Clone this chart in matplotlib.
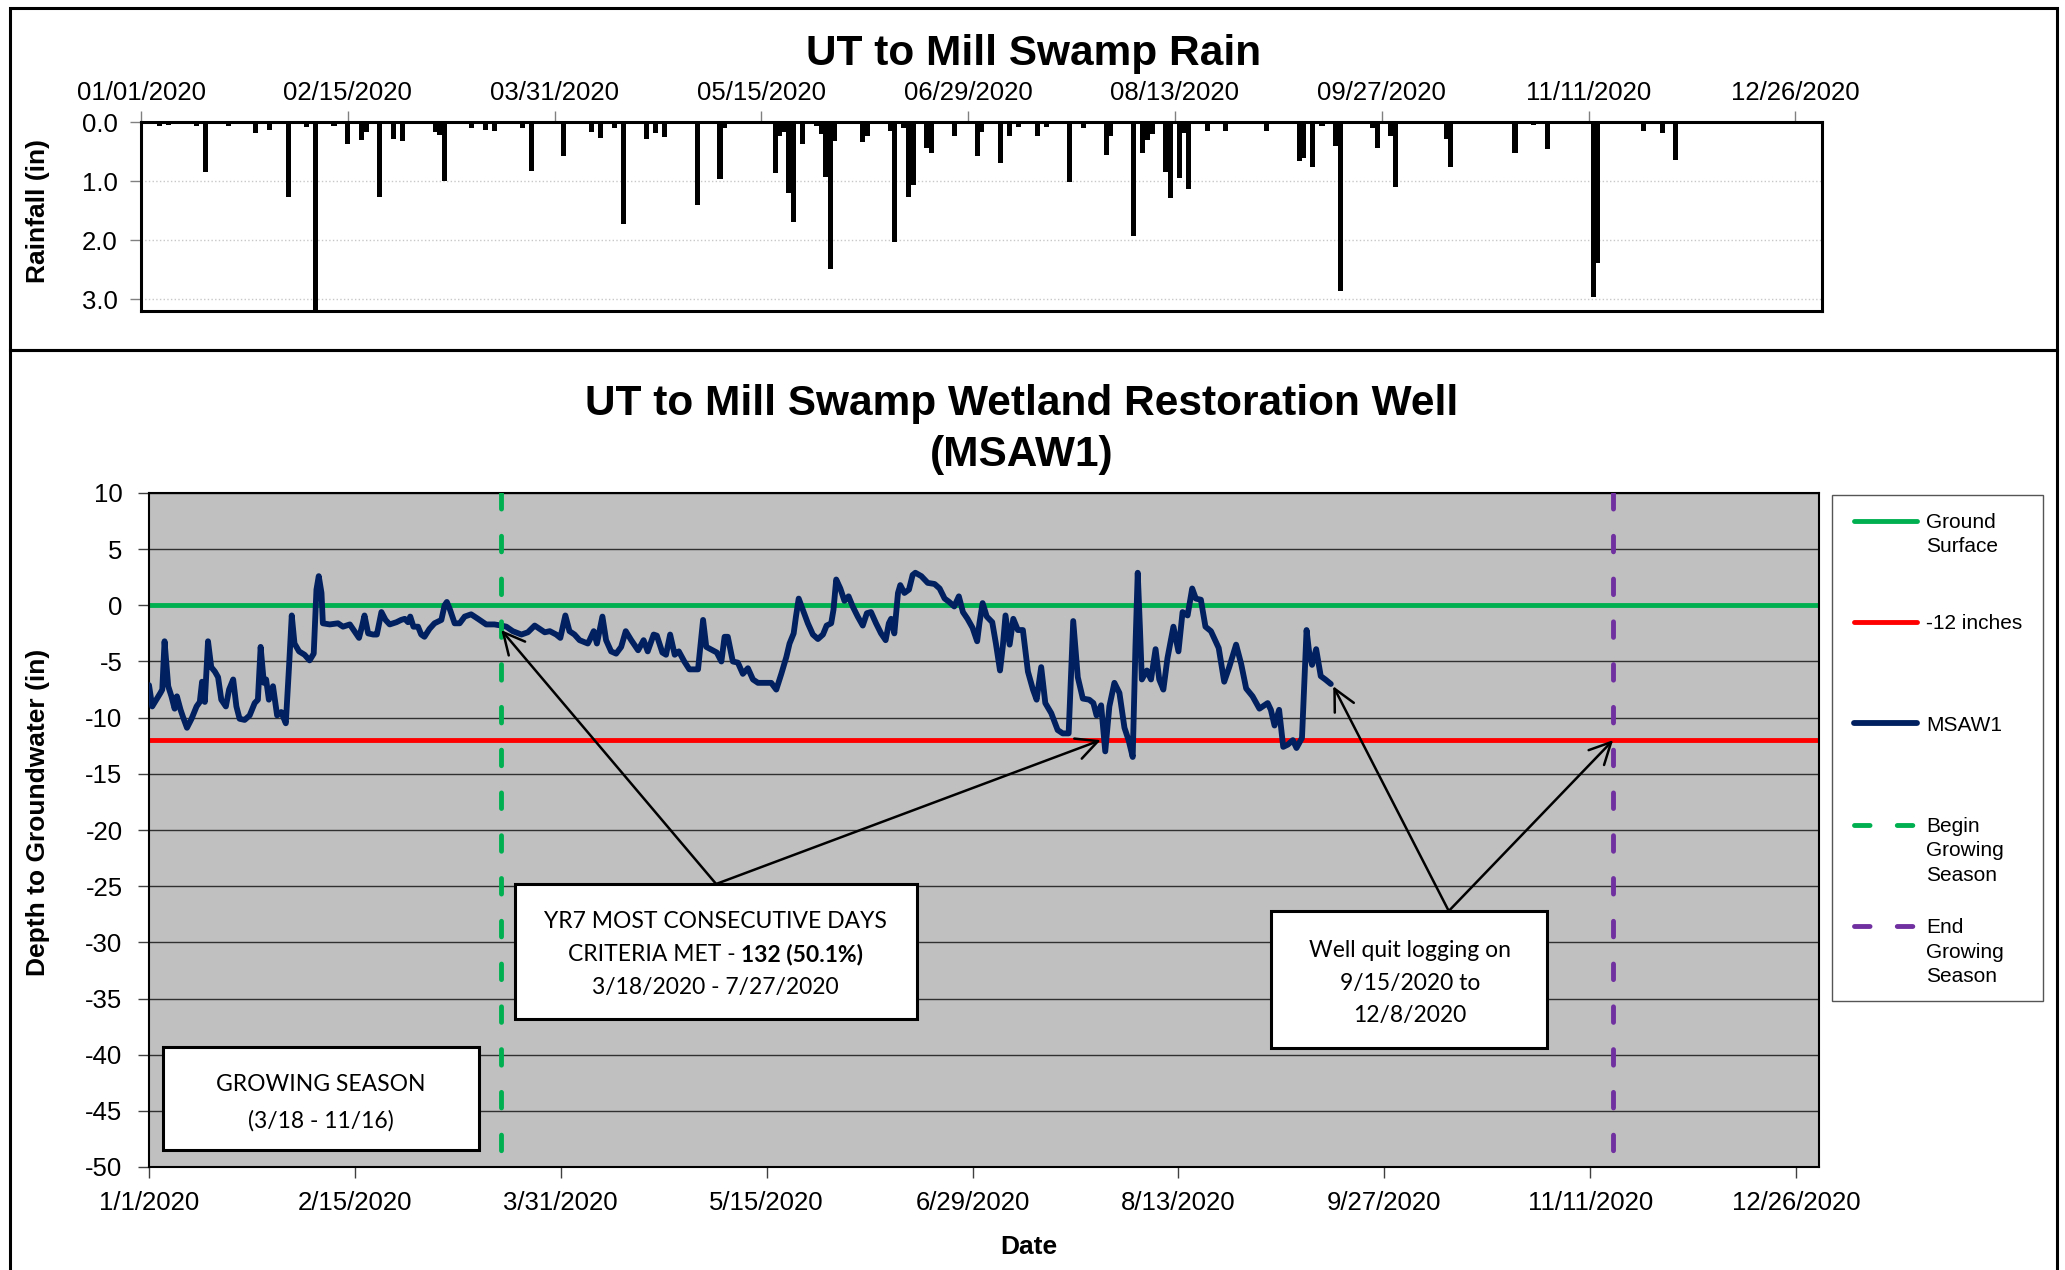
#!/usr/bin/env python3
"""UT to Mill Swamp: 2020 daily rainfall over the MSAW1 groundwater well record."""
import matplotlib
matplotlib.use("Agg")
import matplotlib.pyplot as plt
import matplotlib.dates as mdates
import matplotlib.ticker as mticker
import pandas as pd
from matplotlib.patches import Rectangle
from matplotlib.transforms import offset_copy

ARIAL = "Liberation Sans"
CALIBRI = "Lato"
GREEN = "#00B050"
RED = "#FF0000"
NAVY = "#002060"
PURPLE = "#7030A0"
PLOT_BG = "#C0C0C0"
plt.rcParams.update({"font.family": ARIAL, "axes.linewidth": 1.5, "axes.unicode_minus": False})

# ---- data ------------------------------------------------------------------
rain_dates = [
    "2020-01-05", "2020-01-07", "2020-01-10", "2020-01-13", "2020-01-15", "2020-01-20",
    "2020-01-26", "2020-01-29", "2020-02-02", "2020-02-06", "2020-02-08", "2020-02-10",
    "2020-02-12", "2020-02-15", "2020-02-18", "2020-02-19", "2020-02-22", "2020-02-25",
    "2020-02-27", "2020-03-05", "2020-03-06", "2020-03-07", "2020-03-13", "2020-03-16",
    "2020-03-18", "2020-03-24", "2020-03-26", "2020-04-02", "2020-04-08", "2020-04-10",
    "2020-04-13", "2020-04-15", "2020-04-20", "2020-04-22", "2020-04-24", "2020-05-01",
    "2020-05-06", "2020-05-07", "2020-05-09", "2020-05-18", "2020-05-19", "2020-05-20",
    "2020-05-21", "2020-05-22", "2020-05-24", "2020-05-27", "2020-05-28", "2020-05-29",
    "2020-05-30", "2020-05-31", "2020-06-06", "2020-06-07", "2020-06-12", "2020-06-13",
    "2020-06-15", "2020-06-16", "2020-06-17", "2020-06-20", "2020-06-21", "2020-06-26",
    "2020-07-01", "2020-07-02", "2020-07-06", "2020-07-08", "2020-07-10", "2020-07-14",
    "2020-07-16", "2020-07-21", "2020-07-24", "2020-07-25", "2020-07-29", "2020-07-30",
    "2020-08-04", "2020-08-06", "2020-08-07", "2020-08-08", "2020-08-11", "2020-08-12",
    "2020-08-14", "2020-08-15", "2020-08-16", "2020-08-20", "2020-08-24", "2020-09-02",
    "2020-09-06", "2020-09-09", "2020-09-10", "2020-09-12", "2020-09-14", "2020-09-17",
    "2020-09-18", "2020-09-25", "2020-09-26", "2020-09-29", "2020-09-30", "2020-10-05",
    "2020-10-11", "2020-10-12", "2020-10-17", "2020-10-26", "2020-10-30", "2020-11-02",
    "2020-11-12", "2020-11-13", "2020-11-23", "2020-11-27", "2020-11-30",
]
rain_in = [
    0.06, 0.05, 0.03, 0.07, 0.85, 0.07,
    0.19, 0.14, 1.27, 0.09, 3.20, 0.02,
    0.06, 0.37, 0.30, 0.17, 1.27, 0.28,
    0.32, 0.17, 0.22, 1.00, 0.10, 0.13,
    0.15, 0.10, 0.83, 0.58, 0.17, 0.27,
    0.11, 1.72, 0.28, 0.19, 0.26, 1.41,
    0.97, 0.11, 0.03, 0.87, 0.23, 0.17,
    1.21, 1.69, 0.38, 0.07, 0.20, 0.93,
    2.49, 0.33, 0.34, 0.24, 0.15, 2.03,
    0.11, 1.27, 1.06, 0.44, 0.53, 0.23,
    0.58, 0.17, 0.70, 0.24, 0.09, 0.24,
    0.09, 1.02, 0.11, 0.03, 0.56, 0.23,
    1.93, 0.53, 0.30, 0.20, 0.85, 1.28,
    0.95, 0.19, 1.13, 0.16, 0.16, 0.15,
    0.02, 0.66, 0.61, 0.76, 0.06, 0.41,
    2.86, 0.10, 0.44, 0.24, 1.10, 0.02,
    0.28, 0.76, 0.02, 0.53, 0.05, 0.45,
    2.97, 2.39, 0.15, 0.19, 0.64,
]

# MSAW1 logger readings: days after 1 Jan 2020, depth to groundwater (in)
well_day = [
    0.0, 0.7, 1.6, 2.5, 2.9, 3.4, 4.2, 4.9, 5.6, 6.1, 6.9, 7.4, 8.3, 9.3, 10.4,
    11.1, 11.6, 12.2, 12.9, 13.6, 14.4, 15.1, 15.8, 16.8, 17.5, 18.4, 19.1, 19.8,
    20.9, 22.0, 23.1, 23.8, 24.4, 25.1, 25.6, 26.2, 27.1, 28.0, 28.9, 29.9, 30.6,
    31.2, 31.8, 32.8, 34.0, 35.1, 36.0, 36.6, 37.1, 37.7, 38.0, 39.5, 41.3, 42.4,
    43.9, 44.9, 45.9, 46.6, 47.1, 47.9, 49.0, 49.8, 50.8, 51.7, 52.6, 54.1, 55.1,
    55.9, 56.6, 57.1, 57.8, 58.8, 59.5, 60.2, 61.3, 62.4, 63.9, 64.6, 65.1, 65.8,
    66.8, 67.9, 69.0, 70.4, 71.9, 73.7, 75.5, 77.0, 78.1, 79.5, 81.4, 82.8, 84.3,
    85.4, 86.5, 87.6, 89.0, 89.9, 91.0, 91.9, 93.0, 94.1, 95.9,
    96.3, 97.2, 97.9, 99.1, 99.9, 101.0, 102.1, 103.2, 104.2, 105.4, 106.9, 108.1,
    109.0, 110.3, 111.0, 112.2, 113.0, 113.9, 114.9, 115.8, 117.0, 118.1, 120.0,
    121.1, 121.8, 123.2, 124.1, 125.1, 125.8, 126.5, 127.6, 128.7, 129.8, 130.9,
    132.0, 133.1, 136.0, 137.1, 138.2, 139.3, 140.0, 140.9, 141.4, 142.0, 142.9,
    144.0, 145.1, 146.2, 147.3, 148.1, 149.1, 149.6, 150.2, 151.1, 152.0, 152.9,
    153.8, 154.9, 156.0, 156.9, 157.8, 158.9, 160.0, 161.0, 161.7, 162.2, 162.9,
    163.7, 164.2, 165.1, 166.1, 166.9, 167.5, 168.8, 170.2, 171.7, 172.8, 173.9,
    174.9, 176.0, 177.0, 177.9, 178.9, 180.0, 181.0, 181.5, 182.2, 183.1, 184.3,
    185.1, 186.0, 186.6, 187.2, 188.1, 188.9, 189.9, 191.0,
    192.1, 193.2, 194.0, 195.0, 195.9, 197.2, 198.6, 199.7, 201.0, 202.0, 203.0,
    204.1, 205.5, 206.4, 207.1, 208.1, 209.0, 209.9, 211.0, 212.1, 213.2, 214.1,
    215.0, 215.6, 216.1, 216.6, 217.0, 218.1, 219.0, 220.0, 220.8, 221.7, 222.6,
    223.9, 225.0, 225.9, 227.0, 228.0, 228.8, 229.9, 230.9, 232.1, 233.8, 235.0,
    236.1, 237.6, 238.7, 239.8, 241.2, 242.7, 244.5, 245.2, 246.0, 247.0, 247.9,
    248.9, 250.0, 250.8, 252.0, 252.5, 253.0, 253.6, 254.2, 255.1, 256.1, 257.1,
    258.3,
]
well_in = [
    -7.1, -9.0, -8.4, -7.8, -7.5, -3.2, -7.2, -8.1, -9.2, -8.1, -9.3, -9.9, -10.9, -10.1, -9.0,
    -8.6, -6.8, -8.6, -3.2, -5.5, -5.9, -6.4, -8.4, -9.0, -7.5, -6.6, -9.0, -10.1,
    -10.2, -9.8, -8.7, -8.4, -3.7, -6.9, -6.6, -8.4, -7.2, -9.8, -9.5, -10.5, -5.5,
    -0.9, -3.4, -4.1, -4.4, -4.9, -4.3, 1.4, 2.6, 1.1, -1.6, -1.7, -1.6, -1.9,
    -1.7, -2.3, -2.9, -1.8, -0.9, -2.5, -2.6, -2.6, -0.6, -1.3, -1.7, -1.5, -1.3,
    -1.2, -1.5, -1.0, -1.9, -1.9, -2.6, -2.8, -2.1, -1.6, -1.3, 0.0, 0.3, -0.4,
    -1.6, -1.6, -1.0, -0.8, -1.2, -1.7, -1.7, -1.8, -1.9, -2.3, -2.6, -2.4, -1.8,
    -2.1, -2.4, -2.3, -2.6, -2.9, -0.9, -2.3, -2.6, -3.1, -3.4,
    -3.1, -2.3, -3.4, -1.0, -3.1, -4.1, -4.3, -3.7, -2.3, -3.1, -4.0, -3.1,
    -4.1, -2.6, -2.7, -4.2, -4.4, -2.6, -4.4, -4.1, -5.0, -5.7, -5.7,
    -1.3, -3.7, -4.0, -4.2, -5.0, -2.8, -2.8, -5.0, -5.1, -6.1, -5.6,
    -6.6, -6.9, -6.9, -7.5, -6.1, -4.6, -3.4, -2.5, -1.0, 0.6, -0.4,
    -1.6, -2.6, -3.0, -2.6, -1.8, -1.6, -0.4, 2.3, 1.5, 0.4, 0.8,
    -0.1, -1.0, -1.8, -0.7, -0.6, -1.6, -2.5, -3.1, -1.6, -1.2, -2.5,
    1.1, 1.8, 1.1, 1.4, 2.7, 2.9, 2.6, 2.0, 1.9, 1.5, 0.6,
    0.3, -0.1, 0.8, -0.6, -1.2, -2.0, -3.2, -1.6, 0.2, -1.0, -1.5,
    -3.4, -5.8, -3.7, -0.9, -3.5, -1.2, -2.2, -2.2,
    -5.9, -7.5, -8.4, -5.5, -8.7, -9.6, -11.1, -11.4, -11.4, -1.4, -6.4,
    -8.3, -8.4, -8.7, -9.8, -8.9, -13.0, -9.0, -6.9, -7.8, -10.9, -12.0,
    -13.5, -3.7, 2.9, -2.2, -6.6, -5.8, -6.6, -3.9, -6.6, -7.5, -4.7,
    -1.9, -4.1, -0.6, -0.9, 1.5, 0.6, 0.5, -1.9, -2.3, -3.8, -6.8,
    -5.5, -3.5, -5.2, -7.4, -8.1, -9.2, -8.7, -9.3, -10.7, -9.3, -12.6,
    -12.4, -12.0, -12.7, -11.8, -6.9, -2.2, -4.3, -5.3, -3.9, -6.3, -6.6,
    -7.0,
]
assert len(well_day) == len(well_in) and len(rain_dates) == len(rain_in)

ground_in = 0
criteria_in = -12
season_start = "2020-03-18"
season_end = "2020-11-16"
criteria_end = "2020-07-27"
logger_stop = "2020-09-15 20:00"
tick_dates = pd.date_range("2020-01-01", periods=9, freq="45D")

# legend: first line goes in the legend itself, the rest is hung underneath it
legend_first = ["Ground", "-12 inches", "MSAW1", "Begin", "End"]
legend_rest = ["Surface", "", "", "Growing\nSeason", "Growing\nSeason"]

T0 = pd.Timestamp("2020-01-01")
rain_x = pd.to_datetime(rain_dates)
well_x = T0 + pd.to_timedelta(well_day, unit="D")

# ---- layout helpers (pixel boxes measured on the 2065x1270 reference) -------
W, H = 2065, 1270
fig = plt.figure(figsize=(W / 100, H / 100), dpi=100)


def fbox(x0, y0, x1, y1):
    return [x0 / W, 1 - y1 / H, (x1 - x0) / W, (y1 - y0) / H]


# two framed panels
fig.patches.append(Rectangle((10 / W, 1 - 350 / H), 2047 / W, 342 / H, transform=fig.transFigure,
                             fill=False, ec="black", lw=2.2))
fig.patches.append(Rectangle((10 / W, -0.02), 2047 / W, 1 - 350 / H + 0.02, transform=fig.transFigure,
                             fill=False, ec="black", lw=2.2))

# ---- rain panel --------------------------------------------------------------
ax1 = fig.add_axes(fbox(141, 122, 1822, 311))
ax1.bar(rain_x, rain_in, width=1.1, color="black", zorder=3)
ax1.set_ylim(3.2, 0)
ax1.set_xlim(T0, T0 + pd.Timedelta(days=365.8))
ax1.xaxis.tick_top()
ax1.set_xticks(tick_dates)
ax1.xaxis.set_major_formatter(mdates.DateFormatter("%m/%d/%Y"))
ax1.set_yticks([0, 1, 2, 3])
ax1.yaxis.set_major_formatter(mticker.FormatStrFormatter("%.1f"))
ax1.yaxis.grid(True, color="#c8c8c8", ls=":", lw=1)
ax1.set_axisbelow(True)
ax1.tick_params(axis="x", length=8, width=1, color="#808080", labelsize=18.5, pad=4)
ax1.tick_params(axis="y", length=8, width=1, color="#808080", labelsize=18.5, pad=9)
for s in ax1.spines.values():
    s.set_linewidth(2.2)
ax1.set_ylabel("Rainfall (in)", fontsize=19, fontweight="bold")
ax1.yaxis.set_label_coords(-0.054, 0.53)
fig.text(1034 / W, 1 - 54 / H, "UT to Mill Swamp Rain", ha="center", va="center",
         fontsize=30.5, fontweight="bold")

# ---- well panel --------------------------------------------------------------
ax2 = fig.add_axes(fbox(149, 493, 1819, 1167))
ax2.set_facecolor(PLOT_BG)
l_ground = ax2.axhline(ground_in, color=GREEN, lw=3.5, solid_capstyle="round", zorder=2)
l_crit = ax2.axhline(criteria_in, color=RED, lw=3.5, solid_capstyle="round", zorder=2)
l_well, = ax2.plot(well_x, well_in, color=NAVY, lw=4.2, solid_joinstyle="round",
                   solid_capstyle="round", zorder=3)
dash = (0, (3.2, 5.6))
l_begin = ax2.axvline(pd.Timestamp(season_start), ymin=1, ymax=0, color=GREEN, lw=3.5,
                      ls=dash, dash_capstyle="round", zorder=4)
l_end = ax2.axvline(pd.Timestamp(season_end), ymin=1, ymax=0, color=PURPLE, lw=3.5,
                    ls=dash, dash_capstyle="round", zorder=4)

ax2.set_ylim(-50, 10)
ax2.set_yticks(range(-50, 11, 5))
ax2.set_xlim(T0, T0 + pd.Timedelta(days=365))
ax2.set_xticks(tick_dates)
ax2.xaxis.set_major_formatter(mticker.FuncFormatter(
    lambda v, _: "{0.month}/{0.day}/{0.year}".format(mdates.num2date(v))))
ax2.yaxis.grid(True, color="#303030", lw=1.0)
ax2.set_axisbelow(True)
ax2.tick_params(length=8, width=1, color="#404040", labelsize=18.5)
ax2.tick_params(axis="x", pad=9)
ax2.tick_params(axis="y", pad=11)
ax2.set_ylabel("Depth to Groundwater (in)", fontsize=19, fontweight="bold")
ax2.yaxis.set_label_coords(-0.059, 0.526)
ax2.set_xlabel("Date", fontsize=19, fontweight="bold")
ax2.xaxis.set_label_coords(0.527, -0.101)
fig.text(1022 / W, 1 - 404 / H, "UT to Mill Swamp Wetland Restoration Well", ha="center",
         va="center", fontsize=30.5, fontweight="bold")
fig.text(1022 / W, 1 - 455 / H, "(MSAW1)", ha="center", va="center", fontsize=30.5,
         fontweight="bold")

leg = ax2.legend([l_ground, l_crit, l_well, l_begin, l_end], legend_first, loc="upper left",
                 bbox_to_anchor=(1854 / W, 1 - 513 / H), bbox_transform=fig.transFigure,
                 frameon=False, borderpad=0, borderaxespad=0, handlelength=3.03,
                 handletextpad=0.42, labelspacing=3.95, prop={"family": ARIAL, "size": 15})
for first, rest in zip(leg.get_texts(), legend_rest):
    if rest:
        ax2.annotate(rest, xy=(0, 0), xycoords=first, xytext=(0, -5.4), textcoords="offset pixels",
                     ha="left", va="top", family=ARIAL, fontsize=15, linespacing=1.38,
                     annotation_clip=False, zorder=10)
fig.patches.append(Rectangle((1832 / W, 1 - 1001 / H), 211 / W, 506 / H, transform=fig.transFigure,
                             fill=False, ec="#555555", lw=1.0))

# ---- annotation boxes -----------------------------------------------------------
def note_box(x0, y0, x1, y1):
    ax2.add_patch(Rectangle((x0, y0), x1 - x0, y1 - y0, transform=ax2.transAxes, fc="white",
                            ec="black", lw=2.2, zorder=6))


TXT = dict(transform=ax2.transAxes, ha="center", va="baseline", family=CALIBRI, fontsize=16.5,
           color="black", zorder=7)
arrow = dict(arrowstyle="->,head_length=0.7,head_width=0.35", color="black", lw=1.8,
             shrinkA=0, shrinkB=0, mutation_scale=22)

note_box(0.2192, 0.2196, 0.4599, 0.4199)
ax2.text(0.3392, 0.3546, "YR7 MOST CONSECUTIVE DAYS", **TXT)
ax2.text(0.3392, 0.2567, "3/18/2020 - 7/27/2020", **TXT)
t_a = ax2.text(0.3392, 0.3051, "CRITERIA MET -", **{**TXT, "ha": "left"})
t_b = ax2.text(0.3392, 0.3051, "132 (50.1%)", fontweight="bold", **{**TXT, "ha": "left"})
ax2.annotate("", xy=(pd.Timestamp(season_start), -2.2), xytext=(0.3396, 0.4199),
             textcoords="axes fraction", arrowprops=arrow, zorder=5)
ax2.annotate("", xy=(pd.Timestamp(criteria_end), criteria_in), xytext=(0.3396, 0.4199),
             textcoords="axes fraction", arrowprops=arrow, zorder=5)

note_box(0.6719, 0.1766, 0.8371, 0.3798)
ax2.text(0.7551, 0.3120, "Well quit logging on", **TXT)
ax2.text(0.7551, 0.2626, "9/15/2020 to", **TXT)
ax2.text(0.7551, 0.2156, "12/8/2020", **TXT)
ax2.annotate("", xy=(pd.Timestamp(logger_stop), well_in[-1] - 0.2), xytext=(0.7783, 0.3798),
             textcoords="axes fraction", arrowprops=arrow, zorder=5)
ax2.annotate("", xy=(pd.Timestamp(season_end), criteria_in), xytext=(0.7783, 0.3798),
             textcoords="axes fraction", arrowprops=arrow, zorder=5)

note_box(0.0084, 0.0252, 0.1976, 0.1780)
ax2.text(0.1028, 0.1128, "GROWING SEASON", **TXT)
ax2.text(0.1028, 0.0589, "(3/18 - 11/16)", **TXT)

# centre the mixed-weight line once the text widths are known
fig.canvas.draw()
r = fig.canvas.get_renderer()
wa = t_a.get_window_extent(r).width
wb = t_b.get_window_extent(r).width
gap = 0.22 * 16.5 * 100 / 72
total = wa + gap + wb
t_a.set_transform(offset_copy(ax2.transAxes, fig=fig, x=-total / 2, y=0, units="dots"))
t_b.set_transform(offset_copy(ax2.transAxes, fig=fig, x=-total / 2 + wa + gap, y=0, units="dots"))

fig.savefig("out.png", dpi=100)
print("wrote out.png")
